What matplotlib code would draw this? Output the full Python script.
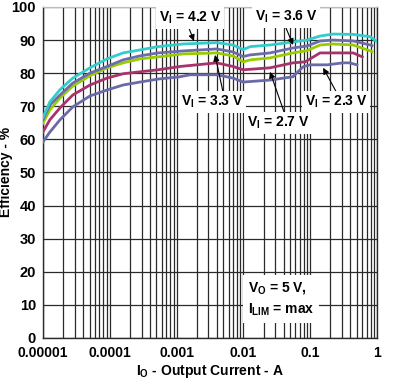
import numpy as np
import matplotlib
matplotlib.use("Agg")
import matplotlib.pyplot as plt

plt.rcParams['font.family'] = ['Liberation Sans', 'DejaVu Sans']
plt.rcParams['font.weight'] = 'bold'
plt.rcParams['mathtext.fontset'] = 'custom'
plt.rcParams['mathtext.rm'] = 'Liberation Sans:bold'
plt.rcParams['mathtext.it'] = 'Liberation Sans:bold'
plt.rcParams['mathtext.bf'] = 'Liberation Sans:bold'

# Data (current in A, efficiency in %)
i_42 = [1e-5, 1.27e-5, 1.8e-5, 2.8e-5, 5.06e-5, 9.1e-5, 1.58e-4, 2.83e-4, 5.27e-4, 1.25e-3, 2.2e-3, 4.0e-3, 7.0e-3, 9.9e-3, 1.26e-2, 2.5e-2, 5.5e-2, 9e-2, 0.14, 0.22, 0.44, 0.79, 1.0]
e_42 = [66.6, 71.3, 75.0, 78.5, 81.6, 84.3, 86.1, 87.0, 88.0, 88.8, 89.0, 89.2, 88.5, 87.1, 88.0, 88.5, 89.4, 90.0, 91.2, 91.8, 91.7, 91.0, 89.5]

i_36 = [1e-5, 1.27e-5, 1.8e-5, 2.8e-5, 5.06e-5, 9.1e-5, 1.58e-4, 2.83e-4, 5.27e-4, 1.25e-3, 4.0e-3, 7.0e-3, 9.9e-3, 1.26e-2, 2.5e-2, 5.5e-2, 9e-2, 0.14, 0.22, 0.44, 0.79, 0.84]
e_36 = [65.9, 70.4, 73.4, 77.0, 80.0, 82.0, 84.0, 85.2, 86.1, 86.7, 87.3, 86.4, 85.0, 85.5, 86.1, 87.6, 88.2, 89.7, 90.0, 89.7, 88.5, 88.3]

i_33 = [1e-5, 1.27e-5, 1.8e-5, 2.8e-5, 5.06e-5, 9.1e-5, 1.58e-4, 2.83e-4, 5.27e-4, 1.25e-3, 4.0e-3, 7.0e-3, 9.9e-3, 1.26e-2, 2.5e-2, 5.5e-2, 9e-2, 0.14, 0.22, 0.44, 0.79, 0.84]
e_33 = [64.9, 68.9, 72.5, 76.1, 79.2, 81.6, 83.1, 84.3, 84.9, 85.8, 86.1, 85.2, 83.4, 84.0, 84.6, 86.1, 86.8, 88.5, 88.8, 88.5, 86.7, 86.5]

i_27 = [1e-5, 1.27e-5, 1.8e-5, 2.8e-5, 5.06e-5, 9.1e-5, 1.58e-4, 2.83e-4, 5.27e-4, 1.12e-3, 4.0e-3, 7.0e-3, 9.9e-3, 2.5e-2, 5.5e-2, 8.4e-2, 0.14, 0.22, 0.44, 0.557, 0.6]
e_27 = [62.2, 65.9, 69.5, 73.4, 76.4, 78.5, 79.8, 80.4, 81.0, 82.0, 83.1, 82.0, 81.0, 81.6, 83.1, 83.4, 86.1, 86.1, 86.1, 85.2, 84.9]

i_23 = [1e-5, 1.27e-5, 1.8e-5, 2.8e-5, 5.06e-5, 9.1e-5, 1.58e-4, 2.83e-4, 5.27e-4, 1.12e-3, 1.6e-3, 4.0e-3, 7.0e-3, 9.9e-3, 2.5e-2, 5.5e-2, 7.8e-2, 9.9e-2, 0.178, 0.31, 0.39, 0.5]
e_23 = [59.2, 62.2, 65.9, 69.8, 73.1, 74.9, 76.4, 77.3, 78.2, 78.9, 79.5, 79.5, 78.5, 77.3, 77.9, 78.9, 81.9, 82.5, 82.5, 83.1, 83.1, 82.5]

xticks = [1e-5, 1e-4, 1e-3, 1e-2, 1e-1, 1]
xtick_labels = ['0.00001', '0.0001', '0.001', '0.01', '0.1', '1']
yticks = list(range(0, 101, 10))

fig = plt.figure(figsize=(3.94, 3.84), dpi=100)
ax = fig.add_axes([0.109, 0.12, 0.848, 0.862])
ax.set_xscale('log')
ax.set_xlim(1e-5, 1)
ax.set_ylim(0, 100)

grid_c = '#2a2a2a'
ax.set_xticks(xticks)
ax.set_xticklabels(xtick_labels)
ax.set_yticks(yticks)
ax.xaxis.set_minor_locator(matplotlib.ticker.LogLocator(base=10, subs=np.arange(2, 10)))
ax.xaxis.set_minor_formatter(matplotlib.ticker.NullFormatter())
ax.grid(True, which='major', color=grid_c, lw=0.9)
ax.grid(True, which='minor', axis='x', color=grid_c, lw=0.9)
ax.tick_params(which='both', length=0)
ax.tick_params(axis='x', labelsize=10, pad=6)
ax.tick_params(axis='y', labelsize=10.5, pad=5)
for lbl in ax.get_xticklabels() + ax.get_yticklabels():
    lbl.set_fontweight('bold')
for s in ['left', 'bottom', 'right']:
    ax.spines[s].set_color(grid_c)
    ax.spines[s].set_linewidth(1.0)
ax.spines['top'].set_color('#bbbbbb')

lw = 2.0
ax.plot(i_23, e_23, color='#6a6aa8', lw=lw, zorder=3)
ax.plot(i_27, e_27, color='#a8336a', lw=lw, zorder=3)
ax.plot(i_33, e_33, color='#99cc00', lw=lw, zorder=3)
ax.plot(i_36, e_36, color='#6c6cac', lw=lw, zorder=3)
ax.plot(i_42, e_42, color='#33cccc', lw=lw, zorder=3)

box = dict(boxstyle='square,pad=0.2', fc='white', ec='none')
arr = dict(arrowstyle='-|>', color='black', lw=0.8, mutation_scale=9, shrinkA=0, shrinkB=0)

def lab(txt, xy, xytext, relpos):
    a = dict(arr)
    a['relpos'] = relpos
    ax.annotate(txt, xy=xy, xytext=xytext, ha='center', va='center', fontsize=10,
                fontweight='bold', bbox=box, arrowprops=a, zorder=5)

lab(r'$\mathrm{V_I}$ = 4.2 V', (1.82e-3, 89.7), (1.59e-3, 96.7), (0.47, 0))
lab(r'$\mathrm{V_I}$ = 3.6 V', (0.0553, 88.5), (0.0435, 97.0), (0.48, 0))
lab(r'$\mathrm{V_I}$ = 3.3 V', (3.76e-3, 85.5), (3.4e-3, 71.3), (0.68, 1))
lab(r'$\mathrm{V_I}$ = 2.7 V', (0.025, 80.4), (0.033, 65.0), (0.61, 1))
lab(r'$\mathrm{V_I}$ = 2.3 V', (0.156, 81.6), (0.243, 71.3), (0.52, 1))

ax.text(0.0117, 11.8, 'V$\\mathrm{_O}$ = 5 V,\nI$\\mathrm{_{LIM}}$ = max', ha='left', va='center',
        fontsize=10, fontweight='bold', linespacing=1.5,
        bbox=dict(boxstyle='square,pad=0.35', fc='white', ec='none'), zorder=5)

ax.set_xlabel(r'$\mathrm{I_O}$ - Output Current - A', fontsize=10, fontweight='bold', labelpad=2)
ax.set_ylabel('Efficiency - %', fontsize=10, fontweight='bold')
ax.yaxis.set_label_coords(-0.09, 0.5)

fig.savefig('out.png', dpi=100)
